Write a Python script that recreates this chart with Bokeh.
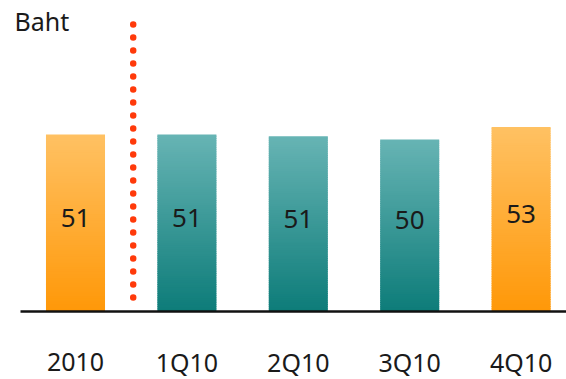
from bokeh.plotting import figure
from bokeh.models import Range1d, ColumnDataSource
from bokeh.core.properties import value
from bokeh.embed import file_html
from bokeh.resources import INLINE

# ---- data ----
categories = ["2010", "1Q10", "2Q10", "3Q10", "4Q10"]
values = [51.0, 51.0, 50.5, 49.6, 53.2]
value_labels = ["51", "51", "51", "50", "53"]
bar_group = ["year", "quarter", "quarter", "quarter", "highlight"]
unit_label = "Baht"

# ---- styles ----
gradients = {
    "year": ((255, 193, 99), (255, 152, 8)),
    "highlight": ((255, 193, 99), (255, 152, 8)),
    "quarter": ((103, 180, 180), (13, 124, 121)),
}
FONT = "Noto Sans"
W, H = 566, 379
px_per_cat = 111.4
px_per_unit = 3.47
first_center_px = 75
baseline_px = 311

x0 = -first_center_px / px_per_cat
y1 = baseline_px / px_per_unit
p = figure(width=W, height=H, output_backend="svg", toolbar_location=None,
           x_range=Range1d(x0, x0 + W / px_per_cat),
           y_range=Range1d(-(H - baseline_px) / px_per_unit, y1),
           min_border=0, x_axis_location=None, y_axis_location=None)
p.outline_line_color = None
p.grid.visible = False
p.background_fill_color = "white"
p.border_fill_color = "white"

N = 80
bar_w = 0.53
L, R, B, T, C = [], [], [], [], []
for i, (v, g) in enumerate(zip(values, bar_group)):
    top_c, bot_c = gradients[g]
    for k in range(N):
        f = (k + 0.5) / N  # 0 bottom -> 1 top
        col = tuple(int(round(bot_c[j] + (top_c[j] - bot_c[j]) * f)) for j in range(3))
        L.append(i - bar_w / 2)
        R.append(i + bar_w / 2)
        B.append(v * k / N)
        T.append(min(v, v * (k + 1) / N + 0.25))
        C.append("#%02x%02x%02x" % col)
p.quad(left=L, right=R, bottom=B, top=T, fill_color=C, line_color=None)

# baseline
p.segment(x0=[x0 + 20 / px_per_cat], x1=[x0 + W / px_per_cat], y0=[0], y1=[0],
          line_color="#111111", line_width=2.5)

# dotted separator between full year and quarters (drawn top-down)
p.segment(x0=[0.518], x1=[0.518], y0=[(baseline_px - 24) / px_per_unit], y1=[1.5],
          line_color="#FF3A0A", line_width=6.5, line_dash="0 13", line_cap="round")

# value labels
src = ColumnDataSource(dict(x=list(range(len(values))), y=[v * 0.53 for v in values],
                            t=value_labels))
p.text(x="x", y="y", text="t", source=src, text_align="center", text_baseline="middle",
       text_font=value(FONT), text_font_size="26px", text_color="#1a1a1a")

# category labels
csrc = ColumnDataSource(dict(x=list(range(len(categories))),
                             y=[-50 / px_per_unit] * len(categories), t=categories))
p.text(x="x", y="y", text="t", source=csrc, text_align="center", text_baseline="middle",
       text_font=value(FONT), text_font_size="25px", text_color="#1a1a1a")

# unit label
p.text(x=[x0 + 14 / px_per_cat], y=[(baseline_px - 20) / px_per_unit], text=[unit_label],
       text_align="left", text_baseline="middle",
       text_font=value(FONT), text_font_size="25px", text_color="#1a1a1a")

open("out.html", "w").write(file_html(p, INLINE))
